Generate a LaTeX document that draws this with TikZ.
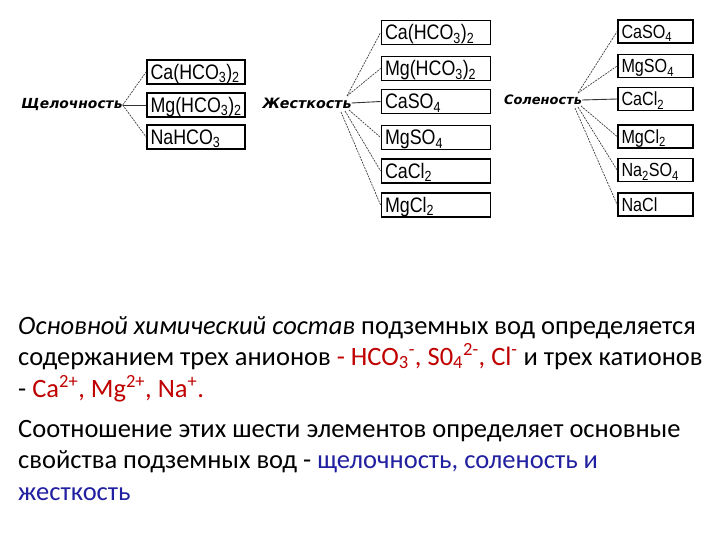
\documentclass[tikz,border=0pt]{standalone}
\usepackage{fontspec}
\setmainfont{Carlito}
\newfontfamily\boxfont{Liberation Sans}
\newfontfamily\labfont{DejaVu Sans}
\definecolor{redtxt}{RGB}{192,0,0}
\definecolor{bluetxt}{RGB}{32,32,160}
\newcommand{\chemtxt}[1]{\scalebox{0.85}[1]{#1}}
\begin{document}
\begin{tikzpicture}[x=1pt,y=-1pt,
  chem/.style={draw=black, line width=1.8pt, inner ysep=0pt, minimum height=24pt, anchor=center, align=left, text height=17pt, text depth=2pt},
  lbox/.style={chem, text width=91pt, inner xsep=3.5pt, font=\boxfont\fontsize{21}{21}\selectfont},
  mbox/.style={chem, text width=102pt, inner xsep=3.5pt, font=\boxfont\fontsize{21}{21}\selectfont},
  rbox/.style={chem, text width=68pt, inner xsep=3.5pt, minimum height=23pt, text height=16pt, font=\boxfont\fontsize{19}{19}\selectfont},
  conn/.style={draw=black!75, line width=0.7pt, dash pattern=on 2pt off 1pt},
  hconn/.style={draw=black!80, line width=0.9pt},
  lab/.style={inner sep=0pt, font=\labfont\bfseries\itshape\fontsize{11}{11}\selectfont},
  txt/.style={anchor=base west, inner sep=0pt, font=\fontsize{26.5}{26.5}\selectfont}]
\fill[white] (0,0) rectangle (720,540);
\useasboundingbox (0,0) rectangle (720,540);

% left group
\node[lab] (sh) at (72,105) {\resizebox{101pt}{!}{Щелочность}};
\node[lbox] (l1) at (196,72) {\chemtxt{Ca(HCO\textsubscript{3})\textsubscript{2}}};
\node[lbox] (l2) at (196,105) {\chemtxt{Mg(HCO\textsubscript{3})\textsubscript{2}}};
\node[lbox] (l3) at (196,137) {\chemtxt{NaHCO\textsubscript{3}}};
\draw[conn] (sh.east) -- (l1.west);
\draw[hconn] (sh.east) -- (l2.west);
\draw[conn] (sh.east) -- (l3.west);

% middle group
\node[lab] (zh) at (307,103) {\resizebox{89pt}{!}{Жесткость}};
\node[mbox] (m1) at (436,32.5) {\chemtxt{Ca(HCO\textsubscript{3})\textsubscript{2}}};
\node[mbox] (m2) at (436,68.5) {\chemtxt{Mg(HCO\textsubscript{3})\textsubscript{2}}};
\node[mbox] (m3) at (436,101.5) {\chemtxt{CaSO\textsubscript{4}}};
\node[mbox] (m4) at (436,137.5) {\chemtxt{MgSO\textsubscript{4}}};
\node[mbox] (m5) at (436,171) {\chemtxt{CaCl\textsubscript{2}}};
\node[mbox] (m6) at (436,205) {\chemtxt{MgCl\textsubscript{2}}};
\coordinate (zhU) at (347,96);
\coordinate (zhL1) at (349,110);
\coordinate (zhL2) at (345,111);
\coordinate (zhL3) at (341,112);
\draw[conn] (zhU) -- (m1.west);
\draw[conn] (zhU) -- (m2.west);
\draw[hconn] (zh.east) -- (m3.west);
\draw[conn] (zhL1) -- (m4.west);
\draw[conn] (zhL2) -- (m5.west);
\draw[conn] (zhL3) -- (m6.west);

% right group
\node[lab] (so) at (543,100) {\resizebox{78pt}{!}{Соленость}};
\node[rbox] (r1) at (655.5,31.5) {\chemtxt{CaSO\textsubscript{4}}};
\node[rbox] (r2) at (655.5,66) {\chemtxt{MgSO\textsubscript{4}}};
\node[rbox] (r3) at (655.5,99) {\chemtxt{CaCl\textsubscript{2}}};
\node[rbox] (r4) at (655.5,136.5) {\chemtxt{MgCl\textsubscript{2}}};
\node[rbox] (r5) at (655.5,170) {\chemtxt{Na\textsubscript{2}SO\textsubscript{4}}};
\node[rbox] (r6) at (655.5,204.5) {\chemtxt{NaCl}};
\coordinate (soU) at (578,93);
\coordinate (soL1) at (581,106);
\coordinate (soL2) at (578,107);
\coordinate (soL3) at (575,108);
\draw[conn] (soU) -- (r1.west);
\draw[conn] (soU) -- (r2.west);
\draw[hconn] (so.east) -- (r3.west);
\draw[conn] (soL1) -- (r4.west);
\draw[conn] (soL2) -- (r5.west);
\draw[conn] (soL3) -- (r6.west);

% text
\node[txt] (t1) at (18,334) {\itshape Основной химический состав\upshape{} подземных вод определяется};
\node[txt] (t2) at (18,365) {содержанием трех анионов \textcolor{redtxt}{- HCO\textsubscript{3}\textsuperscript{-}, S0\textsubscript{4}\textsuperscript{2-}, Cl\textsuperscript{-}} и трех катионов};
\node[txt] (t3) at (18,397) {- \textcolor{redtxt}{Ca\textsuperscript{2+}, Mg\textsuperscript{2+}, Na\textsuperscript{+}.}};
\node[txt] (t4) at (18,437) {Соотношение этих шести элементов определяет основные};
\node[txt] (t5) at (18,468) {свойства подземных вод - \textcolor{bluetxt}{щелочность, соленость и}};
\node[txt] (t6) at (18,500) {\textcolor{bluetxt}{жесткость}};
\end{tikzpicture}
\end{document}
